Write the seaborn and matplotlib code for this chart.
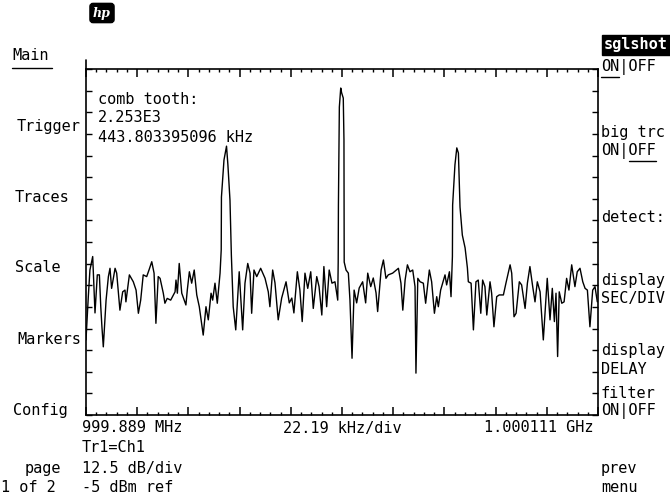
import numpy as np
import pandas as pd
import matplotlib
matplotlib.use("Agg")
import matplotlib.pyplot as plt
import seaborn as sns
from matplotlib.lines import Line2D

# trace: offset from start frequency (kHz), level (dBm)
freq_khz = [0.0, 1.0, 1.7, 2.9, 3.9, 4.9, 5.8, 6.4, 6.9, 7.5, 8.7, 9.7, 10.4, 11.1,
            12.6, 13.3, 14.7, 15.9, 16.9, 17.3, 18.8, 20.5, 21.7, 22.7, 23.7, 24.8,
            26.3, 27.3, 28.5, 29.5, 30.3, 31.3, 32.1, 33.5, 34.2, 35.2, 36.7, 38.6,
            39.0, 39.6, 40.4, 41.5, 43.3, 43.9, 44.8, 45.8, 46.9, 48.0, 49.1, 50.8,
            52.0, 53.0, 54.2, 54.9, 55.9, 56.9, 58.1, 58.6, 58.7, 59.8, 60.9, 61.5,
            62.4, 63.0, 63.8, 64.9, 66.4, 67.9, 68.9, 70.1, 71.1, 71.8, 72.8, 74.0,
            75.7, 77.6, 79.0, 79.7, 80.9, 81.9, 83.3, 84.8, 86.7, 88.1, 89.2, 90.1,
            91.6, 92.7, 93.7, 94.9, 96.1, 97.4, 98.5, 100.0, 101.0, 102.2, 103.1,
            104.3, 105.4, 106.6, 107.9, 109.1, 109.3, 109.4, 109.8, 110.4, 110.8,
            111.5, 111.8, 111.9, 112.7, 113.7, 114.4, 115.3, 116.2, 117.3, 118.4,
            119.9, 121.2, 122.1, 123.4, 124.5, 125.7, 126.4, 127.9, 128.9, 130.0,
            131.0, 132.9, 135.4, 136.5, 137.3, 138.3, 139.3, 140.4, 141.6, 142.6,
            143.0, 143.8, 144.8, 146.2, 147.2, 148.8, 149.8, 151.0, 152.0, 152.7,
            153.7, 155.6, 156.3, 157.5, 158.2, 158.8, 158.9, 159.9, 160.7, 161.4,
            162.1, 163.1, 164.3, 165.3, 165.7, 166.9, 167.9, 169.0, 170.0, 171.1,
            171.9, 172.9, 173.7, 175.1, 175.8, 176.8, 178.0, 179.1, 180.9, 182.0,
            183.8, 184.5, 185.5, 186.4, 187.8, 188.8, 190.3, 191.3, 192.4, 193.6,
            194.6, 195.6, 196.8, 198.2, 199.9, 201.1, 202.1, 203.0, 203.7, 204.4,
            205.1, 206.2, 207.2, 208.3, 209.3, 210.5, 211.9, 212.9, 214.1, 215.3,
            216.3, 217.3, 218.4, 219.6, 220.6, 221.6]
level_dbm = [-83.3, -70.8, -63.1, -59.2, -75.5, -64.5, -64.5, -73.7, -79.5, -85.3,
             -71.8, -65.0, -62.6, -68.4, -62.6, -64.0, -74.7, -69.4, -68.9, -72.3,
             -64.5, -66.5, -68.9, -75.6, -71.8, -64.5, -65.0, -63.1, -60.7, -64.0,
             -78.5, -65.0, -65.5, -69.8, -72.7, -71.3, -71.8, -69.4, -66.0, -69.8,
             -61.2, -69.8, -73.2, -68.9, -63.6, -66.9, -63.1, -70.3, -73.7, -81.9,
             -73.7, -77.5, -69.8, -71.8, -66.9, -72.7, -64.0, -57.3, -42.0, -31.3,
             -27.3, -32.7, -42.9, -58.8, -73.7, -80.4, -63.6, -80.4, -66.9, -61.2,
             -64.0, -75.6, -63.1, -65.0, -62.6, -65.5, -69.4, -73.7, -63.1, -66.8,
             -77.5, -71.2, -66.5, -72.6, -71.2, -75.5, -63.6, -68.9, -78.0, -64.0,
             -68.4, -63.6, -74.2, -65.0, -67.9, -76.1, -62.1, -73.7, -63.1, -66.9,
             -66.5, -71.8, -60.8, -44.3, -16.0, -10.5, -11.9, -13.4, -25.5, -60.8,
             -63.1, -64.0, -71.8, -88.6, -68.9, -72.6, -68.3, -66.5, -72.6, -64.0,
             -67.9, -65.4, -69.7, -75.1, -63.1, -60.2, -65.5, -64.5, -64.0, -62.6,
             -66.9, -74.7, -66.0, -61.6, -63.6, -63.1, -67.9, -92.9, -65.5, -66.5,
             -66.9, -72.7, -63.1, -66.5, -75.6, -70.8, -73.7, -68.9, -64.5, -67.4,
             -63.6, -70.8, -59.2, -44.3, -32.7, -27.8, -29.3, -44.9, -53.0, -56.7,
             -62.5, -66.5, -66.9, -80.4, -66.5, -66.0, -75.6, -66.0, -67.9, -76.1,
             -66.5, -69.8, -79.5, -70.8, -70.3, -70.3, -66.9, -61.6, -64.0, -76.6,
             -75.6, -66.5, -67.4, -74.2, -66.9, -62.1, -67.9, -72.3, -66.5, -69.4,
             -83.3, -65.5, -77.5, -68.4, -78.0, -69.8, -88.1, -69.4, -72.7, -72.3,
             -65.5, -68.9, -61.6, -67.9, -63.6, -62.6, -66.5, -68.4, -68.9, -79.5,
             -68.9, -67.9, -72.3]

khz_per_div = 22.19
n_xdiv = 10
db_per_div = 12.5
n_ydiv = 8
ref_dbm = -5

start_label = "999.889 MHz"
center_label = "22.19 kHz/div"
stop_label = "1.000111 GHz"
marker_lines = ["comb tooth:", "2.253E3", "443.803395096 kHz"]
info_lines = ["Tr1=Ch1", "12.5 dB/div", "-5 dBm ref"]
left_menu = ["Main", "Trigger", "Traces", "Scale", "Markers", "Config"]
page_lines = ["page", "1 of 2"]
right_menu = ["ON|OFF", "big trc", "ON|OFF", "detect:", "display", "SEC/DIV",
              "display", "DELAY", "filter", "ON|OFF", "prev", "menu"]

sns.set_style("white")
plt.rcParams["font.family"] = ["DejaVu Sans Mono"]

W, H = 670, 503
fig = plt.figure(figsize=(W / 100, H / 100), dpi=100)


def fx(px):
    return px / W


def fy(py):
    return 1 - py / H


ax = fig.add_axes([fx(86), fy(415), 512 / W, 346 / H])
df = pd.DataFrame({"freq": freq_khz, "level": level_dbm})
sns.lineplot(data=df, x="freq", y="level", ax=ax, color="black", lw=1.0,
             sort=False, estimator=None)

span = khz_per_div * n_xdiv
bottom = ref_dbm - db_per_div * n_ydiv
ax.set_xlim(0, span)
ax.set_ylim(bottom, ref_dbm)
ax.set_xticks(np.arange(n_xdiv + 1) * khz_per_div)
ax.set_xticks(np.arange(n_xdiv * 5 + 1) * khz_per_div / 5, minor=True)
ax.set_yticks(np.arange(n_ydiv * 2 + 1) * db_per_div / 2 + bottom)
ax.tick_params(axis="x", which="major", direction="in", length=6, width=1.1,
               top=True, bottom=True, labelbottom=False, color="black")
ax.tick_params(axis="x", which="minor", direction="in", length=2.5, width=1.0,
               top=True, bottom=True, color="black")
ax.tick_params(axis="y", which="major", direction="in", length=4.5, width=1.0,
               left=True, right=True, labelleft=False, color="black")
ax.set_xlabel("")
ax.set_ylabel("")
for s in ax.spines.values():
    s.set_color("black")
    s.set_linewidth(1.2)
# small stub of the left frame above the graticule
ax.plot([0, 0], [1, 1.025], transform=ax.transAxes, color="black", lw=1.2,
        clip_on=False)

fs = 11
kw = dict(fontsize=fs, color="black", va="center")

# marker readout
for i, t in enumerate(marker_lines):
    fig.text(fx(98), fy(99 + 19 * i), t, **kw)

# frequency axis labels and info
fig.text(fx(82), fy(428), start_label, ha="left", **kw)
fig.text(fx(342), fy(428), center_label, ha="center", **kw)
fig.text(fx(593), fy(428), stop_label, ha="right", **kw)
for i, t in enumerate(info_lines):
    fig.text(fx(82), fy(448 + 20 * i), t, ha="left", **kw)

# left softkeys
left_x = [12, 17, 15, 15, 17, 13]
left_y = [55, 127, 198, 268, 339, 411]
for t, x, y in zip(left_menu, left_x, left_y):
    fig.text(fx(x), fy(y), t, ha="left", **kw)
fig.add_artist(Line2D([fx(12), fx(52)], [fy(68), fy(68)], color="black", lw=1.0))
fig.text(fx(25), fy(468), page_lines[0], ha="left", **kw)
fig.text(fx(1), fy(488), page_lines[1], ha="left", **kw)

# right softkeys
cw = 0.602 * fs * 100 / 72
fig.text(fx(604), fy(45), "sglshot", ha="left", fontsize=fs, color="white",
         weight="bold", va="center",
         bbox=dict(boxstyle="square,pad=0.15", fc="black", ec="black"))
right_y = [67, 133, 151, 217, 280, 298, 350, 369, 394, 411, 468, 488]
for t, y in zip(right_menu, right_y):
    fig.text(fx(601), fy(y), t, ha="left", **kw)
fig.add_artist(Line2D([fx(601), fx(601 + 2 * cw)], [fy(77), fy(77)], color="black", lw=1.0))
fig.add_artist(Line2D([fx(601 + 3 * cw), fx(601 + 6 * cw)], [fy(161), fy(161)],
                      color="black", lw=1.0))

# hp logo
fig.text(fx(102), fy(13), "hp", ha="center", va="center", fontsize=9, color="white",
         style="italic", weight="bold", family="DejaVu Serif",
         bbox=dict(boxstyle="round,pad=0.25", fc="black", ec="black"))

fig.savefig("out.png", dpi=100, facecolor="white")
